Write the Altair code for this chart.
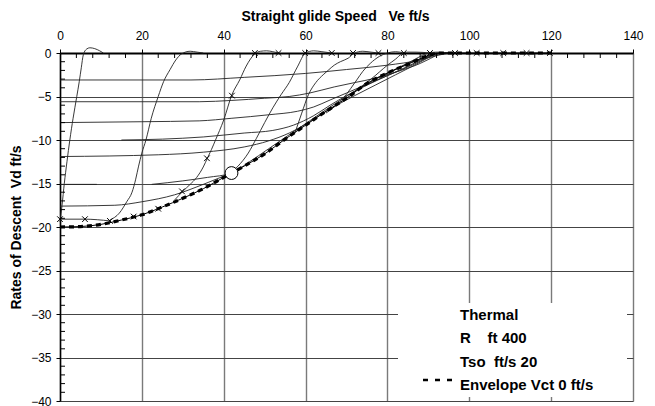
import altair as alt
import pandas as pd

# ---------------- data ----------------
X_TICKS = [0, 20, 40, 60, 80, 100, 120, 140]
Y_TICKS = [0, -5, -10, -15, -20, -25, -30, -35, -40]
X_MINOR = [v for v in range(4, 140, 4) if v % 20 != 0]
Y_MINOR = [v for v in range(-39, 0) if v % 5 != 0]

# Envelope (dashed)
ENV_X = [0, 5, 10, 15, 20, 25, 30, 35, 40, 45, 50, 55, 60, 65, 70, 75, 80, 85, 90, 93, 100, 110, 120]
ENV_Y = [-20, -19.95, -19.7, -19.2, -18.6, -17.7, -16.7, -15.6, -14.3, -13.0, -11.6, -9.9, -8.3, -6.7, -5.2, -3.5, -2.3, -1.3, -0.3, 0, 0, 0, 0]

# thin S-shaped curves (rise to zero)
S1_X = [0, 0.5, 1.05, 1.7, 2.4, 3.2, 4.1, 4.7, 5.2, 5.7, 6.5, 7.3, 8.5, 9.7, 10.6]
S1_Y = [-19.4, -17.5, -15, -12.5, -10, -7.5, -5, -3.3, -1.7, -0.2, 0.45, 0.6, 0.5, 0.25, 0]
S2_X = [12.2, 14.5, 16.3, 17.6, 18.5, 19.2, 20.0, 21.0, 22.3, 24.0, 25.3, 26.9, 28.3, 29.7, 31.8, 33.5, 35]
S2_Y = [-19.2, -18.4, -17.1, -16.0, -14.5, -13.0, -11.5, -10.0, -7.5, -5.0, -3.3, -1.9, -0.8, -0.1, 0.2, 0.1, 0]
S3_X = [28, 30, 31.8, 33.4, 35, 36, 37, 38, 40, 42, 43.9, 45.5, 47.6, 49, 50.5, 52, 53.4]
S3_Y = [-16.9, -15.9, -15.1, -14.3, -13.1, -12.1, -11.1, -10, -7.7, -4.8, -3.1, -1.5, -0.1, 0.2, 0.25, 0.15, 0]
S4_X = [41, 43.5, 46, 48, 50, 52, 54, 56, 58, 60, 62, 64, 66.4]
S4_Y = [-14.0, -13.0, -11.5, -9.8, -8.0, -6.3, -4.8, -3.4, -1.6, 0, 0.25, 0.15, 0]
S5_X = [57.4, 59, 60.7, 62.5, 64.3, 65.5, 67, 68.5, 70.4, 72, 74, 76, 77.8]
S5_Y = [-9.2, -7.0, -4.8, -3.4, -2.5, -2.0, -1.4, -1.0, -0.6, 0, 0.2, 0.1, 0]
S6_X = [65, 67, 69.2, 71, 72.5, 74, 75.8, 78, 80, 82, 84]
S6_Y = [-6.9, -6.2, -5.2, -4.1, -3.1, -2.1, -1.2, -0.4, 0, 0.15, 0]
S7_X = [72, 74, 76, 78, 80, 82, 83.5, 85, 87, 90.4]
S7_Y = [-4.4, -3.7, -3.0, -2.2, -1.4, -0.7, -0.1, 0.1, 0.1, 0]
S8_X = [78, 80, 82, 84, 86, 88, 90, 92, 94, 96.5]
S8_Y = [-2.9, -2.4, -1.9, -1.4, -0.9, -0.4, 0, 0.1, 0.05, 0]

# thin near-horizontal curves
H1_X = [0, 32, 45, 60, 70, 80, 88, 92, 95]
H1_Y = [-3.1, -3.1, -2.8, -2.35, -1.9, -1.4, -0.8, -0.3, 0]
H2_X = [0, 34, 42, 50, 56, 61, 67, 72, 77, 82, 88, 93]
H2_Y = [-5.6, -5.6, -5.45, -5.2, -5.0, -4.6, -3.9, -3.4, -2.9, -2.2, -1.2, 0]
H3_X = [0, 20, 34, 42, 51, 58, 62, 66, 70, 75, 80, 86, 92]
H3_Y = [-8.0, -7.9, -7.8, -7.5, -7.1, -6.7, -6.2, -5.4, -4.6, -3.6, -2.6, -1.4, 0]
H4_X = [15, 25, 35, 45, 52, 57, 62, 66, 70, 75, 80, 86, 91]
H4_Y = [-10, -9.9, -9.65, -9.2, -8.9, -8.3, -7.2, -6.0, -4.9, -3.7, -2.6, -1.3, 0]
H5_X = [0, 24, 35, 45, 51, 56, 60, 64, 68, 72, 77, 82, 87, 92]
H5_Y = [-11.9, -11.7, -11.4, -10.8, -10.1, -9.2, -8.2, -7.0, -5.9, -4.9, -3.7, -2.5, -1.3, 0]
H6A_X = [0, 9]
H6A_Y = [-15.1, -15.1]
H6B_X = [22.4, 30, 36, 42, 46, 51, 56, 61, 66, 72, 78, 85, 93]
H6B_Y = [-15.1, -14.7, -14.3, -13.8, -12.6, -11.0, -9.4, -7.8, -6.2, -4.4, -2.8, -1.2, 0]
H7_X = [0, 13.4, 20, 28, 35, 40.3]
H7_Y = [-17.6, -17.5, -17.1, -16.3, -15.1, -14.1]
H8_X = [0, 6, 12.2]
H8_Y = [-19.1, -19.1, -19.3]

# x markers
MK_X = [0, 6.1, 12.2, 18, 24, 29.8, 35.9, 42, 47.6, 53.4, 59.9, 66.4, 71.6, 77.8, 84, 90.4, 96.5, 101.8, 108.3, 114, 119.7]
MK_Y = [-19.1, -19.1, -19.3, -18.8, -17.9, -15.9, -12.1, -4.9, 0, 0, 0, 0, 0, 0, 0, 0, 0, 0, 0, 0, 0]

# circle marker
CIRC_X = [41.9]
CIRC_Y = [-13.8]

X_TITLE = "Straight glide Speed\u00a0\u00a0 Ve ft/s"
Y_TITLE = "Rates of Descent\u00a0 Vd ft/s"
LEGEND_LINES = ["Thermal", "R\u00a0\u00a0\u00a0 ft 400", "Tso\u00a0 ft/s 20", "Envelope Vct 0 ft/s"]

# ---------------- build tables ----------------
curves = {
    "S1": (S1_X, S1_Y), "S2": (S2_X, S2_Y), "S3": (S3_X, S3_Y), "S4": (S4_X, S4_Y),
    "S5": (S5_X, S5_Y), "S6": (S6_X, S6_Y), "S7": (S7_X, S7_Y), "S8": (S8_X, S8_Y),
    "H1": (H1_X, H1_Y), "H2": (H2_X, H2_Y), "H3": (H3_X, H3_Y), "H4": (H4_X, H4_Y),
    "H5": (H5_X, H5_Y), "H6A": (H6A_X, H6A_Y), "H6B": (H6B_X, H6B_Y), "H7": (H7_X, H7_Y),
    "H8": (H8_X, H8_Y),
}
rows = []
for name, (xs, ys) in curves.items():
    for i, (a, b) in enumerate(zip(xs, ys)):
        rows.append({"series": name, "i": i, "x": a, "y": b})
thin_df = pd.DataFrame(rows)
env_df = pd.DataFrame({"x": ENV_X, "y": ENV_Y, "i": range(len(ENV_X))})
mk_df = pd.DataFrame({"x": MK_X, "y": MK_Y})
circ_df = pd.DataFrame({"x": CIRC_X, "y": CIRC_Y})
xminor_df = pd.DataFrame({"x": X_MINOR, "y": [0] * len(X_MINOR)})
yminor_df = pd.DataFrame({"x": [0] * len(Y_MINOR), "y": Y_MINOR})

FONT = "Liberation Sans"

XS = alt.Scale(domain=[0, 140], nice=False, zero=False)
YS = alt.Scale(domain=[-40, 0], nice=False, zero=False)
XA = alt.Axis(orient="top", values=X_TICKS, title=X_TITLE, titleFont=FONT, titleFontSize=14,
              titleFontWeight="bold", titleColor="black", titleX=275, titleY=-33,
              titleBaseline="alphabetic", titleAlign="center",
              labelFont=FONT, labelFontSize=12, labelColor="black", labelPadding=10,
              labelBaseline="alphabetic", labelFlush=False, labelOverlap=False,
              tickSize=4, tickColor="black", tickWidth=1,
              domainColor="black", domainWidth=2,
              grid=True, gridColor="#7a7a7a", gridWidth=1.4)
YA = alt.Axis(values=Y_TICKS, title=Y_TITLE, titleFont=FONT, titleFontSize=14,
              titleFontWeight="bold", titleColor="black", titleX=-44, titleY=174,
              titleBaseline="middle", titleAlign="center", titleAngle=270,
              labelFont=FONT, labelFontSize=12, labelColor="black", labelPadding=5,
              labelFlush=False, labelOverlap=False,
              tickSize=4, tickColor="black", tickWidth=1,
              domainColor="black", domainWidth=1.5,
              grid=True, gridColor="#444444", gridWidth=1)

def X():
    return alt.X("x:Q", scale=XS, axis=XA)

def Y():
    return alt.Y("y:Q", scale=YS, axis=YA)

one = pd.DataFrame({"k": [0]})

legend_bg = alt.Chart(one).mark_rect(color="white").encode(
    x=alt.value(338), x2=alt.value(567), y=alt.value(250), y2=alt.value(344))

thin = alt.Chart(thin_df).mark_line(color="#222222", strokeWidth=0.9, interpolate="monotone").encode(
    x=X(), y=Y(), detail="series:N", order="i:Q")

env_thin = alt.Chart(env_df).mark_line(color="black", strokeWidth=1,
                                       interpolate="monotone").encode(x=X(), y=Y(), order="i:Q")
env = alt.Chart(env_df).mark_line(color="black", strokeWidth=3.2, strokeDash=[5, 4],
                                  interpolate="monotone").encode(x=X(), y=Y(), order="i:Q")

marks = alt.Chart(mk_df).mark_point(shape="M-1,-1L1,1M-1,1L1,-1", size=32, filled=False,
                                    color="black", strokeWidth=1, opacity=1).encode(x=X(), y=Y())

circ = alt.Chart(circ_df).mark_point(shape="circle", size=165, filled=True, fill="white",
                                     stroke="black", strokeWidth=1, opacity=1).encode(x=X(), y=Y())

xminor = alt.Chart(xminor_df).mark_tick(orient="vertical", size=5, thickness=1, color="black",
                                        yOffset=2.5, opacity=1).encode(x=X(), y=Y())
yminor = alt.Chart(yminor_df).mark_tick(orient="horizontal", size=5, thickness=1, color="black",
                                        xOffset=2.5, opacity=1).encode(x=X(), y=Y())

leg_texts = []
for txt, yy in zip(LEGEND_LINES, [267, 290, 314, 337]):
    leg_texts.append(
        alt.Chart(one).mark_text(text=txt, font=FONT, fontSize=15, fontWeight="bold", color="black",
                                 align="left", baseline="alphabetic").encode(
            x=alt.value(400), y=alt.value(yy)))
leg_dash = alt.Chart(one).mark_rule(color="black", strokeWidth=2.5, strokeDash=[5, 7]).encode(
    x=alt.value(363), x2=alt.value(395), y=alt.value(327))

chart = alt.layer(legend_bg, thin, env_thin, env, marks, circ, xminor, yminor, leg_dash, *leg_texts).properties(
    width=573, height=348,
    autosize=alt.AutoSizeParams(type="none"),
    padding={"left": 52, "top": 45, "right": 14, "bottom": 5},
).configure_view(stroke=None).configure(background="white")

chart.save("out.html", embed_options={"renderer": "svg", "actions": False})
